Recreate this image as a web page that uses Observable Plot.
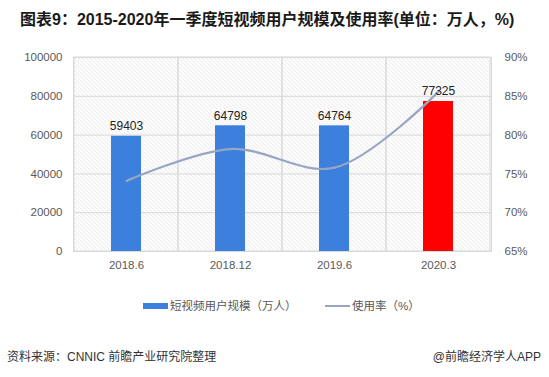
<!DOCTYPE html>
<html><head><meta charset="utf-8">
<script src="https://cdn.jsdelivr.net/npm/d3@7"></script>
<script src="https://cdn.jsdelivr.net/npm/@observablehq/plot@0.6"></script>
<style>
body{margin:0;background:#fff;width:549px;height:377px;overflow:hidden;position:relative;font-family:"Liberation Sans","Noto Sans CJK SC",sans-serif;}
#chart{position:absolute;left:0;top:0;}
#title{position:absolute;left:20px;top:9px;font-size:16px;line-height:22px;font-weight:bold;color:#1a1a1a;white-space:nowrap;}
.leg{position:absolute;top:298px;font-size:11.5px;line-height:16px;color:#595959;white-space:nowrap;}
.sw{position:absolute;}
.foot{position:absolute;top:349px;font-size:12px;line-height:16px;color:#333;white-space:nowrap;}
</style></head>
<body>
<div id="chart"></div>
<div id="title">图表9：2015-2020年一季度短视频用户规模及使用率(单位：万人，%)</div>
<div class="sw" style="left:143px;top:303px;width:25px;height:6px;background:#3c7fdc"></div>
<div class="leg" style="left:170px">短视频用户规模（万人）</div>
<div class="sw" style="left:325px;top:305px;width:25px;height:2px;background:#98a6c4"></div>
<div class="leg" style="left:352px">使用率（%）</div>
<div class="foot" style="left:7px">资料来源：CNNIC 前瞻产业研究院整理</div>
<div class="foot" style="right:8px">@前瞻经济学人APP</div>
<script>
const periods = ["2018.6", "2018.12", "2019.6", "2020.3"];
const users = [59403, 64798, 64764, 77325];
const rates = [74.1, 78.2, 75.8, 85.6];
const barColors = ["#3c7fdc", "#3c7fdc", "#3c7fdc", "#ff0000"];
const leftTicks = [0, 20000, 40000, 60000, 80000, 100000];
const rightTicks = [65, 70, 75, 80, 85, 90];

const rMin = 65, rMax = 90, yMax = 100000;
const toY = r => (r - rMin) / (rMax - rMin) * yMax;
const data = periods.map((p, i) => ({period: p, users: users[i], rate: rates[i], color: barColors[i]}));

const chart = Plot.plot({
  width: 549, height: 280,
  marginTop: 57, marginBottom: 29, marginLeft: 73, marginRight: 58,
  style: {fontFamily: '"Liberation Sans","Noto Sans CJK SC",sans-serif', fontSize: "11.5px", color: "#595959", background: "transparent"},
  x: {domain: periods, padding: 0},
  y: {domain: [0, yMax]},
  marks: [
    Plot.frame({fill: "url(#hatch)", stroke: "#d9d9d9"}),
    Plot.gridY(leftTicks, {stroke: "#d9d9d9", strokeOpacity: 1}),
    Plot.barY(data, {x: "period", y: yMax, fill: "none", stroke: "#d9d9d9"}),
    Plot.barY(data, {x: "period", y: "users", fill: "color", insetLeft: 37, insetRight: 37}),
    Plot.line(data, {x: "period", y: d => toY(d.rate), stroke: "#98a6c4", strokeWidth: 2.2, curve: "catmull-rom"}),
    Plot.text(data, {x: "period", y: "users", text: d => String(d.users), dy: -10, fill: "#222", fontSize: 12}),
    Plot.axisY(leftTicks, {anchor: "left", tickSize: 0, tickPadding: 11, tickFormat: d => String(d), fill: "#595959", label: null}),
    Plot.axisY(rightTicks.map(toY), {anchor: "right", tickSize: 0, tickPadding: 13, tickFormat: v => Math.round(rMin + v / yMax * (rMax - rMin)) + "%", fill: "#595959", label: null}),
    Plot.axisX({tickSize: 0, tickPadding: 9, fill: "#595959", label: null})
  ]
});
const ns = "http://www.w3.org/2000/svg";
const defs = document.createElementNS(ns, "defs");
defs.innerHTML = '<pattern id="hatch" patternUnits="userSpaceOnUse" width="4" height="4"><rect width="4" height="4" fill="#ffffff"/><path d="M-1,-1L5,5M-1,3L1,5M3,-1L5,1" stroke="#dcdcdc" stroke-width="0.8"/></pattern>';
chart.insertBefore(defs, chart.firstChild);
document.getElementById("chart").appendChild(chart);
</script>
</body></html>
